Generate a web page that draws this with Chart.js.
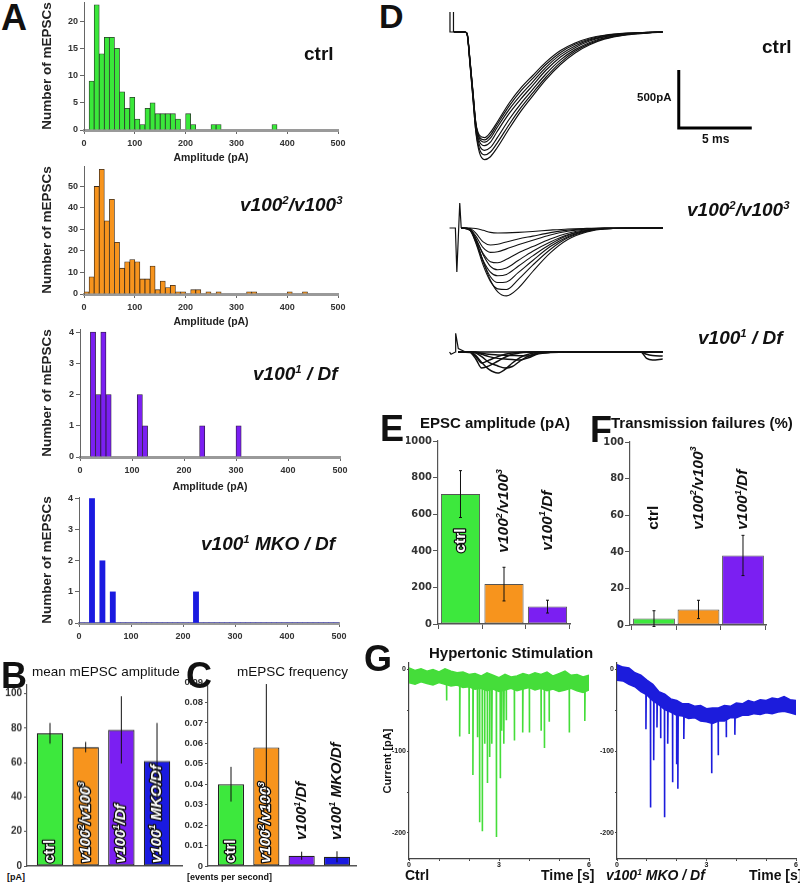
<!DOCTYPE html>
<html lang="en">
<head>
<meta charset="UTF-8">
<title>mEPSC and EPSC figure</title>
<script src="https://cdn.jsdelivr.net/npm/chart.js"></script>
<style>
  body { margin: 0; background: #fff; font-family: "Liberation Sans", Arial, sans-serif; }
  #fig { position: relative; width: 800px; height: 886px; overflow: hidden; }
  #fig canvas { position: absolute; }
  .t { position: absolute; line-height: 1; white-space: nowrap; color: #111; }
  sup { font-size: 0.6em; vertical-align: 0.6em; line-height: 0; }
</style>
</head>
<body>
<div id="fig"></div>
<script>
// ---------- data ----------
// A: histogram bins (10 pA wide), centres in pA
const binCenters = [5, 15, 25, 35, 45, 55, 65, 75, 85, 95,
  105, 115, 125, 135, 145, 155, 165, 175, 185, 195,
  205, 215, 225, 235, 245, 255, 265, 275, 285, 295,
  305, 315, 325, 335, 345, 355, 365, 375, 385, 395,
  405, 415, 425, 435, 445, 455, 465, 475, 485, 495];
const ctrlCounts = [0, 9, 23, 14, 17, 17, 15, 7, 4, 6, 2, 1, 4, 5, 3, 3, 3, 3, 2, 0,
  3, 1, 0, 0, 0, 1, 1, 0, 0, 0, 0, 0, 0, 0, 0, 0, 0, 1, 0, 0, 0, 0, 0, 0, 0, 0, 0, 0, 0, 0];
const v100_23Counts = [1, 8, 50, 58, 34, 44, 24, 12, 15, 16, 15, 7, 7, 13, 2, 6, 3, 4, 1, 1,
  0, 2, 2, 0, 1, 0, 1, 0, 0, 0, 0, 0, 1, 1, 0, 0, 0, 0, 0, 0, 1, 0, 0, 1, 0, 0, 0, 0, 0, 0];
const v100_1DfCounts = [0, 0, 4, 2, 4, 2, 0, 0, 0, 0, 0, 2, 1, 0, 0, 0, 0, 0, 0, 0,
  0, 0, 0, 1, 0, 0, 0, 0, 0, 0, 1, 0, 0, 0, 0, 0, 0, 0, 0, 0, 0, 0, 0, 0, 0, 0, 0, 0, 0, 0];
const mkoCounts = [0, 0, 4, 0, 2, 0, 1, 0, 0, 0, 0, 0, 0, 0, 0, 0, 0, 0, 0, 0,
  0, 0, 1, 0, 0, 0, 0, 0, 0, 0, 0, 0, 0, 0, 0, 0, 0, 0, 0, 0, 0, 0, 0, 0, 0, 0, 0, 0, 0, 0];

// B, C: four genotypes
const genotypes4 = ['ctrl', 'v100^2/v100^3', 'v100^1/Df', 'v100^1 MKO/Df'];
const meanAmp = [77, 69, 79, 61];
const meanAmpErr = [6, 3, 19.5, 22];
const mepscFreq = [0.040, 0.058, 0.005, 0.0045];
const mepscFreqErr = [0.0085, 0.031, 0.002, 0.0027];

// E, F: three genotypes
const genotypes3 = ['ctrl', 'v100^2/v100^3', 'v100^1/Df'];
const epscAmp = [710, 218, 95];
const epscAmpErr = [128, 92, 35];
const failures = [3.5, 8.5, 38];
const failuresErr = [4.3, 5, 11];

// D: evoked EPSC traces, time in ms, current in pA
const ctrlT = [0.2, 0.95, 1.1, 1.3, 1.5, 1.7, 1.95, 2.3, 2.7, 3.15, 4.0, 4.8, 5.6, 6.5, 7.5, 8.5, 9.5, 10.5, 12, 13.5, 14.5];
const ctrlTraces = [
  [0, 0, -15, -270, -560, -860, -1040, -1100, -1075, -1000, -830, -680, -550, -410, -280, -180, -110, -62, -25, -8, 0],
  [0, 0, -20, -280, -570, -850, -1010, -1060, -1035, -960, -795, -650, -525, -390, -262, -166, -100, -56, -22, -7, 0],
  [0, 0, -12, -250, -530, -820, -975, -1020, -995, -915, -750, -615, -495, -362, -240, -152, -90, -50, -20, -6, 0],
  [0, 0, -18, -260, -540, -810, -945, -980, -950, -860, -700, -575, -460, -330, -215, -135, -78, -42, -17, -5, 0],
  [0, 0, -10, -240, -510, -790, -920, -950, -915, -825, -665, -540, -430, -305, -195, -120, -68, -37, -14, -4, 0],
  [0, 0, -14, -255, -525, -795, -905, -930, -890, -800, -635, -505, -400, -280, -176, -106, -60, -32, -12, -4, 0],
  [0, 0, -16, -245, -515, -780, -890, -910, -865, -780, -610, -480, -375, -260, -160, -95, -52, -28, -10, -3, 0]
];
const ctrlArtT = [-0.07, -0.07, -0.07, 0.14, 0.14, 0.2];
const ctrlArtI = [0, 172, 0, 0, 172, 0];
const scaleBarT = [15.6, 15.6, 20.6];
const scaleBarI = [-328, -828, -828];

const v23T = [0.7, 1.3, 1.7, 2.2, 2.7, 3.2, 3.8, 4.6, 5.6, 6.8, 8.0, 9.3, 10.5, 14.5];
const v23Traces = [
  [0, 0, -5, -20, -38, -43, -42, -38, -30, -18, -8, -3, 0, 0],
  [0, -5, -45, -120, -147, -140, -120, -95, -70, -40, -18, -6, -1, 0],
  [0, -10, -70, -170, -210, -205, -180, -145, -105, -60, -28, -10, -2, 0],
  [0, -15, -95, -220, -290, -300, -270, -215, -160, -95, -45, -15, -3, 0],
  [0, -10, -90, -230, -330, -360, -345, -280, -200, -120, -58, -20, -5, 0],
  [0, -20, -120, -280, -380, -412, -400, -330, -240, -140, -65, -22, -5, 0],
  [0, -15, -110, -290, -420, -470, -465, -385, -280, -160, -75, -25, -6, 0],
  [0, -20, -130, -320, -460, -525, -530, -445, -320, -185, -85, -30, -7, 0],
  [0, -10, -100, -290, -450, -550, -585, -520, -375, -215, -100, -35, -8, 0]
];
const v23ArtT = [-0.1, 0.3, 0.4, 0.6, 0.7];
const v23ArtI = [0, 0, -380, 215, 0];

const v1DfT = [0.5, 1.3, 1.7, 2.1, 2.6, 3.2, 3.7, 4.2, 4.7, 5.3, 6.0, 8.0, 13.0, 13.4, 13.8, 14.5];
const v1DfTraces = [
  [0, 0, -40, -95, -70, -40, -20, -8, -3, 0, 0, 0, 0, 0, 0, 0],
  [0, -5, -60, -138, -120, -80, -45, -20, -8, -2, 0, 0, 0, 0, 0, 0],
  [0, 0, -30, -90, -150, -181, -150, -95, -50, -20, -5, 0, 0, 0, 0, 0],
  [0, 0, -10, -40, -90, -120, -138, -125, -80, -35, -8, 0, 0, 0, 0, 0],
  [0, 0, -5, -20, -40, -55, -60, -65, -69, -50, -15, 0, 0, 0, 0, 0],
  [0, 0, 0, -10, -20, -25, -28, -30, -32, -34, -10, 0, 0, -55, -69, -60],
  [0, 0, 0, 0, 0, 0, 0, 0, 0, 0, 0, 0, 0, -20, -30, -35]
];
const v1DfArtT = [-0.1, 0.0, 0.3, 0.32, 0.5, 1.0];
const v1DfArtI = [0, -20, 0, 161, 30, 0];

// G: hypertonic stimulation, time in s, current in pA (noise band edges + events)
const gTime = [0, 0.2, 0.4, 0.6, 0.8, 1.0, 1.2, 1.4, 1.6, 1.8, 2.0, 2.2, 2.4, 2.6, 2.8, 3.0,
  3.2, 3.4, 3.6, 3.8, 4.0, 4.2, 4.4, 4.6, 4.8, 5.0, 5.2, 5.4, 5.6, 5.8, 6.0];
const ctrlBandHi = [2, -1, 1, -2, 0, -3, 1, -2, -4, -3, -6, -5, -8, -4, -7, -10, -6, -9, -8, -5,
  -7, -4, -6, -3, -8, -5, -2, -7, -6, -9, -7];
const ctrlBandLo = [-16, -18, -15, -17, -19, -16, -18, -20, -19, -22, -21, -24, -23, -26, -24, -27,
  -25, -23, -26, -24, -22, -25, -23, -26, -24, -27, -25, -23, -26, -28, -25];
const ctrlEventT = [1.25, 1.69, 2.0, 2.13, 2.28, 2.35, 2.44, 2.52, 2.61, 2.69, 2.76, 2.91, 3.04,
  3.09, 3.16, 3.24, 3.51, 3.79, 4.01, 4.4, 4.51, 4.67, 5.34, 5.86];
const ctrlEventPeak = [-38, -82, -79, -129, -83, -187, -198, -91, -139, -107, -91, -205, -133,
  -75, -91, -62, -87, -77, -77, -75, -96, -64, -77, -63];
const mkoBandHi = [6, 3, 2, -4, -7, -13, -18, -27, -30, -36, -38, -42, -42, -45, -44, -48,
  -47, -47, -44, -45, -41, -42, -38, -40, -37, -38, -35, -36, -33, -37, -38];
const mkoBandLo = [-13, -14, -18, -21, -27, -31, -38, -43, -49, -52, -56, -57, -60, -59, -63, -64,
  -66, -63, -63, -59, -59, -56, -56, -54, -55, -53, -54, -52, -51, -53, -55];
const mkoEventT = [0.97, 1.12, 1.23, 1.34, 1.46, 1.59, 1.7, 1.86, 2.0, 2.04, 2.24, 3.17, 3.39, 3.66, 3.95];
const mkoEventPeak = [-73, -169, -111, -71, -84, -181, -91, -138, -116, -146, -85, -127, -105, -83, -80];

// ---------- colours / fonts ----------
const GREEN = '#3de83d', ORANGE = '#f7941d', PURPLE = '#7b1ff2', BLUE = '#1a1ae0';
const FAM = '"Liberation Sans", Arial, sans-serif';
Chart.defaults.font.family = FAM;
Chart.defaults.color = '#222';

const fig = document.getElementById('fig');

// place a chart so that its plot area sits exactly at plot {l,r,t,b}
function addChart(plot, m, config) {
  const c = document.createElement('canvas');
  const w = plot.r - plot.l + m.l + m.r, h = plot.b - plot.t + m.t + m.b;
  c.width = w; c.height = h;
  c.style.left = (plot.l - m.l) + 'px';
  c.style.top = (plot.t - m.t) + 'px';
  c.style.width = w + 'px';
  c.style.height = h + 'px';
  fig.appendChild(c);
  const o = config.options;
  o.responsive = false;
  o.animation = false;
  o.devicePixelRatio = 1;
  o.layout = { padding: { left: 0, top: m.t, right: m.r, bottom: 0 } };
  o.plugins = Object.assign({ legend: { display: false }, tooltip: { enabled: false } }, o.plugins || {});
  o.scales.x.afterFit = s => { s.height = m.b; s.paddingLeft = 0; s.paddingRight = 0; };
  o.scales.y.afterFit = s => { s.width = m.l; s.paddingTop = 0; s.paddingBottom = 0; };
  return new Chart(c, config);
}

function addText(html, x, y, size, weight, italic) {
  const d = document.createElement('div');
  d.className = 't';
  d.innerHTML = html;
  d.style.left = x + 'px';
  d.style.top = y + 'px';
  d.style.fontSize = size + 'px';
  d.style.fontWeight = weight || 'normal';
  if (italic) d.style.fontStyle = 'italic';
  fig.appendChild(d);
}

// rotated label with ^n superscripts, reading bottom to top
function drawRich(ctx, text, x, y, size, italic, fill, outline) {
  const parts = text.split(/\^(\d)/);
  ctx.save();
  ctx.translate(x, y);
  ctx.rotate(-Math.PI / 2);
  ctx.textBaseline = 'middle';
  ctx.textAlign = 'left';
  ctx.lineJoin = 'round';
  let cx = 0;
  parts.forEach((p, i) => {
    if (!p) return;
    const sup = i % 2 === 1;
    const fs = sup ? size * 0.6 : size;
    ctx.font = (italic ? 'italic ' : '') + 'bold ' + fs + 'px ' + FAM;
    const dy = sup ? -size * 0.3 : 0;
    if (outline) { ctx.lineWidth = 2.5; ctx.strokeStyle = '#111'; ctx.strokeText(p, cx, dy); }
    ctx.fillStyle = fill;
    ctx.fillText(p, cx, dy);
    cx += ctx.measureText(p).width;
  });
  ctx.restore();
}

const barLabels = {
  id: 'barLabels',
  afterDatasetsDraw(chart, args, opts) {
    if (!opts.texts) return;
    const meta = chart.getDatasetMeta(0);
    const y = chart.scales.y;
    meta.data.forEach((bar, i) => {
      const inside = opts.inside[i];
      drawRich(chart.ctx, opts.texts[i], bar.x, y.getPixelForValue(opts.start[i]), opts.size,
        opts.texts[i] !== 'ctrl', inside ? '#fff' : '#111', inside);
    });
  }
};

const errorBars = {
  id: 'errorBars',
  afterDatasetsDraw(chart, args, opts) {
    if (!opts.values) return;
    const { ctx } = chart;
    const y = chart.scales.y;
    const meta = chart.getDatasetMeta(0);
    ctx.save();
    ctx.strokeStyle = '#111';
    ctx.lineWidth = 1;
    meta.data.forEach((bar, i) => {
      const v = opts.values[i], e = opts.errors[i];
      const yt = y.getPixelForValue(v + e), yb = y.getPixelForValue(v - e);
      ctx.beginPath();
      ctx.moveTo(bar.x, yt); ctx.lineTo(bar.x, yb);
      if (opts.cap) {
        ctx.moveTo(bar.x - opts.cap, yt); ctx.lineTo(bar.x + opts.cap, yt);
        ctx.moveTo(bar.x - opts.cap, yb); ctx.lineTo(bar.x + opts.cap, yb);
      }
      ctx.stroke();
    });
    ctx.restore();
  }
};

// ---------- A: histograms ----------
function histogram(plot, m, counts, color, edge, yMax, yStep, xTitle) {
  const tickFont = { size: 9, weight: 'bold' };
  addChart(plot, m, {
    type: 'bar',
    data: {
      datasets: [{
        data: binCenters.map((x, i) => ({ x: x, y: counts[i] })),
        backgroundColor: color, borderColor: edge || color, borderWidth: edge ? 0.8 : 0,
        barPercentage: 1, categoryPercentage: 1
      }]
    },
    options: {
      scales: {
        x: {
          type: 'linear', min: 0, max: 500, offset: false,
          ticks: { stepSize: 100, font: tickFont, color: '#333', padding: 4, maxRotation: 0 },
          grid: { display: true, drawOnChartArea: false, offset: false, tickLength: 4, color: '#666' },
          border: { color: '#9a9a9a', width: 3 },
          title: { display: xTitle, text: 'Amplitude (pA)', font: { size: 10.5, weight: 'bold' }, color: '#222', padding: { top: 0, bottom: 4 } }
        },
        y: {
          min: 0, max: yMax,
          ticks: { stepSize: yStep, includeBounds: false, font: tickFont, color: '#333', padding: 2 },
          grid: { display: true, drawOnChartArea: false, tickLength: 4, color: '#666' },
          border: { color: '#666', width: 1 },
          title: { display: true, text: 'Number of mEPSCs', font: { size: 13.5, weight: 'bold' }, color: '#222', padding: { top: 4, bottom: 0 } }
        }
      }
    }
  });
}
histogram({ l: 84, r: 338, t: 2, b: 130 }, { l: 49, r: 12, t: 2, b: 38 }, ctrlCounts, '#3ae83a', '#2a3a2a', 23.5, 5, true);
histogram({ l: 84, r: 338, t: 166, b: 294 }, { l: 49, r: 12, t: 4, b: 38 }, v100_23Counts, ORANGE, '#3a2a1a', 59.5, 10, true);
histogram({ l: 80, r: 340, t: 329, b: 457 }, { l: 45, r: 12, t: 4, b: 40 }, v100_1DfCounts, PURPLE, '#2a1a3a', 4.1, 1, true);
histogram({ l: 79, r: 339, t: 496.5, b: 623 }, { l: 44, r: 12, t: 4, b: 20 }, mkoCounts, BLUE, null, 4.05, 1, false);

// ---------- bar charts B, C, E, F ----------
function barChart(plot, m, values, errors, colors, xMin, xMax, barPct, y, extra) {
  const cats = values.map((v, i) => ({ x: i + 1, y: v }));
  const xs = {
    type: 'linear', min: xMin, max: xMax, offset: false,
    ticks: { display: false },
    grid: { display: !!extra.xTicks, drawOnChartArea: false, offset: false, tickLength: 5, color: '#555' },
    border: { color: '#555', width: 1.5 }
  };
  if (extra.xTicks) xs.afterBuildTicks = s => { s.ticks = extra.xTicks.map(v => ({ value: v })); };
  addChart(plot, m, {
    type: 'bar',
    data: {
      datasets: [{
        data: cats, backgroundColor: colors, borderColor: extra.edge, borderWidth: extra.edgeW,
        borderSkipped: false, barPercentage: barPct, categoryPercentage: 1
      }]
    },
    options: {
      scales: {
        x: xs,
        y: {
          min: 0, max: y.max,
          ticks: { stepSize: y.step, includeBounds: false, font: y.font, color: '#333', padding: y.pad,
            callback: v => String(Math.round(v * 1000) / 1000) },
          grid: { display: true, drawOnChartArea: false, tickLength: y.tl, color: '#555' },
          border: { color: '#555', width: 1.2 }
        }
      },
      plugins: {
        barLabels: extra.labels,
        errorBars: { values: values, errors: errors, cap: extra.cap }
      }
    },
    plugins: [barLabels, errorBars]
  });
}

const smallBold = { size: 10, weight: 'bold' };
const narrow = { family: '"Liberation Sans Narrow", "DejaVu Sans Condensed", Arial, sans-serif', size: 11, weight: 'bold' };

barChart({ l: 27, r: 182, t: 685.4, b: 866 }, { l: 27, r: 4, t: 8, b: 4 }, meanAmp, meanAmpErr,
  [GREEN, ORANGE, PURPLE, BLUE], 0.355, 4.70, 0.74,
  { max: 105, step: 20, font: smallBold, pad: 2, tl: 3 },
  { edge: '#222', edgeW: 1.2, cap: 0,
    labels: { texts: genotypes4, inside: [true, true, true, true], start: [1.7, 1.7, 1.7, 1.7], size: 15 } });

barChart({ l: 208, r: 356, t: 682, b: 866 }, { l: 30, r: 4, t: 8, b: 4 }, mepscFreq, mepscFreqErr,
  [GREEN, ORANGE, PURPLE, BLUE], 0.349, 4.538, 0.74,
  { max: 0.09, step: 0.01, font: { size: 9.5, weight: 'bold' }, pad: 2, tl: 3 },
  { edge: '#222', edgeW: 1.2, cap: 0,
    labels: { texts: genotypes4, inside: [true, true, false, false], start: [0.0015, 0.0015, 0.0127, 0.0127], size: 15 } });

barChart({ l: 438, r: 570, t: 441, b: 624 }, { l: 32, r: 4, t: 8, b: 8 }, epscAmp, epscAmpErr,
  [GREEN, ORANGE, PURPLE], 0.483, 3.517, 0.9,
  { max: 1000, step: 200, font: narrow, pad: 1, tl: 5 },
  { edge: '#555', edgeW: 1, cap: 1.5, xTicks: [0.5, 1.5, 2.5, 3.5],
    labels: { texts: genotypes3, inside: [true, false, false], start: [390, 390, 400], size: 15.5 } });

barChart({ l: 630, r: 766, t: 442, b: 625 }, { l: 28, r: 4, t: 8, b: 8 }, failures, failuresErr,
  [GREEN, ORANGE, PURPLE], 0.461, 3.517, 0.94,
  { max: 100, step: 20, font: narrow, pad: 1, tl: 5 },
  { edge: '#555', edgeW: 1, cap: 1.5, xTicks: [0.5, 1.5, 2.5, 3.5],
    labels: { texts: genotypes3, inside: [false, false, false], start: [52, 52, 52], size: 15.5 } });

// ---------- D: traces (scale: 14.6 px per ms, 0.116 px per pA) ----------
const PX_MS = 14.6, PX_PA = 0.116, T0_PX = 451;
function traceChart(plot, basePx, traces, tArr, art, width, bar) {
  const ds = traces.map(tr => ({
    data: tArr.map((t, i) => ({ x: t, y: tr[i] })),
    borderColor: '#111', borderWidth: width, pointRadius: 0, cubicInterpolationMode: 'monotone'
  }));
  ds.push({ data: art.t.map((t, i) => ({ x: t, y: art.i[i] })), borderColor: '#111', borderWidth: 1.2, pointRadius: 0, tension: 0 });
  if (bar) ds.push({ data: bar.t.map((t, i) => ({ x: t, y: bar.i[i] })), borderColor: '#000', borderWidth: 3, pointRadius: 0, tension: 0 });
  addChart(plot, { l: 0, r: 0, t: 0, b: 0 }, {
    type: 'line',
    data: { datasets: ds },
    options: {
      scales: {
        x: { type: 'linear', display: false, min: (plot.l - T0_PX) / PX_MS, max: (plot.r - T0_PX) / PX_MS },
        y: { display: false, min: (basePx - plot.b) / PX_PA, max: (basePx - plot.t) / PX_PA }
      }
    }
  });
}
traceChart({ l: 440, r: 780, t: 0, b: 175 }, 32, ctrlTraces, ctrlT, { t: ctrlArtT, i: ctrlArtI }, 1.2, { t: scaleBarT, i: scaleBarI });
traceChart({ l: 440, r: 780, t: 185, b: 305 }, 228, v23Traces, v23T, { t: v23ArtT, i: v23ArtI }, 1.1);
traceChart({ l: 440, r: 780, t: 320, b: 385 }, 352, v1DfTraces, v1DfT, { t: v1DfArtT, i: v1DfArtI }, 1.5);

// ---------- G: hypertonic stimulation ----------
function eventLine(tArr, peaks, hi, lo) {
  const pts = [];
  tArr.forEach((t, k) => {
    const j = Math.round(t / 0.2);
    const base = (hi[j] + lo[j]) / 2;
    pts.push({ x: t, y: base }, { x: t, y: peaks[k] }, { x: t + 0.012, y: base }, { x: t + 0.013, y: null });
  });
  return pts;
}
function hyperChart(plot, m, hi, lo, evT, evP, color, yTitle) {
  const tiny = { size: 7, weight: 'bold' };
  addChart(plot, m, {
    type: 'line',
    data: {
      datasets: [
        { data: gTime.map((t, i) => ({ x: t, y: hi[i] })), borderColor: color, borderWidth: 1.5, pointRadius: 0, tension: 0 },
        { data: gTime.map((t, i) => ({ x: t, y: lo[i] })), borderColor: color, borderWidth: 1.5, pointRadius: 0, tension: 0,
          fill: '-1', backgroundColor: color },
        { data: eventLine(evT, evP, hi, lo), borderColor: color, borderWidth: 1.6, pointRadius: 0, tension: 0, spanGaps: false }
      ]
    },
    options: {
      scales: {
        x: {
          type: 'linear', min: 0, max: 6,
          ticks: { stepSize: 1, font: tiny, color: '#222', padding: 0, maxRotation: 0, autoSkip: false,
            callback: v => (v % 3 === 0 ? String(v) : '') },
          grid: { display: true, drawOnChartArea: false, tickLength: 2, color: '#444' },
          border: { color: '#444', width: 1.2 }
        },
        y: {
          min: -232, max: 8,
          ticks: { stepSize: 50, includeBounds: false, font: tiny, color: '#222', padding: 1, autoSkip: false,
            callback: v => (v % 100 === 0 ? String(v) : '') },
          grid: { display: true, drawOnChartArea: false, tickLength: 2, color: '#444' },
          border: { color: '#444', width: 1.2 },
          title: { display: !!yTitle, text: yTitle || '', font: { size: 11, weight: 'bold' }, color: '#111', padding: { top: 4, bottom: 0 } }
        }
      },
      plugins: { filler: { propagate: false } }
    }
  });
}
hyperChart({ l: 409, r: 589, t: 663, b: 859 }, { l: 32, r: 6, t: 6, b: 10 }, ctrlBandHi, ctrlBandLo, ctrlEventT, ctrlEventPeak, '#45dd3a', 'Current [pA]');
hyperChart({ l: 617, r: 796, t: 663, b: 859 }, { l: 20, r: 4, t: 6, b: 10 }, mkoBandHi, mkoBandLo, mkoEventT, mkoEventPeak, '#1c1cdc', null);

// ---------- text ----------
addText('A', 1, 0, 36, 'bold');
addText('B', 1, 658, 36, 'bold');
addText('C', 186, 658, 36, 'bold');
addText('D', 379, -1, 34, 'bold');
addText('E', 380, 411, 36, 'bold');
addText('F', 590, 412, 36, 'bold');
addText('G', 364, 641, 36, 'bold');

addText('ctrl', 304, 44, 19, 'bold');
addText('v100<sup>2</sup>/v100<sup>3</sup>', 240, 195, 19, 'bold', true);
addText('v100<sup>1</sup> / Df', 253, 364, 19, 'bold', true);
addText('v100<sup>1</sup> MKO / Df', 201, 534, 19, 'bold', true);

addText('ctrl', 762, 37, 19, 'bold');
addText('v100<sup>2</sup>/v100<sup>3</sup>', 687, 200, 19, 'bold', true);
addText('v100<sup>1</sup> / Df', 698, 328, 19, 'bold', true);
addText('500pA', 637, 92, 11.5, 'bold');
addText('5 ms', 702, 133, 12, 'bold');

addText('mean mEPSC amplitude', 32, 665, 13.5);
addText('mEPSC frequency', 237, 665, 13.5);
addText('[pA]', 7, 873, 9, 'bold');
addText('[events per second]', 187, 873, 9, 'bold');
addText('EPSC amplitude (pA)', 420, 415, 15, 'bold');
addText('Transmission failures (%)', 611, 415, 15, 'bold');

addText('Hypertonic Stimulation', 429, 645, 15, 'bold');
addText('Ctrl', 405, 868, 14, 'bold');
addText('Time [s]', 541, 868, 14, 'bold');
addText('v100<sup>1</sup> MKO / Df', 606, 868, 14, 'bold', true);
addText('Time [s]', 749, 868, 14, 'bold');
</script>
</body>
</html>
